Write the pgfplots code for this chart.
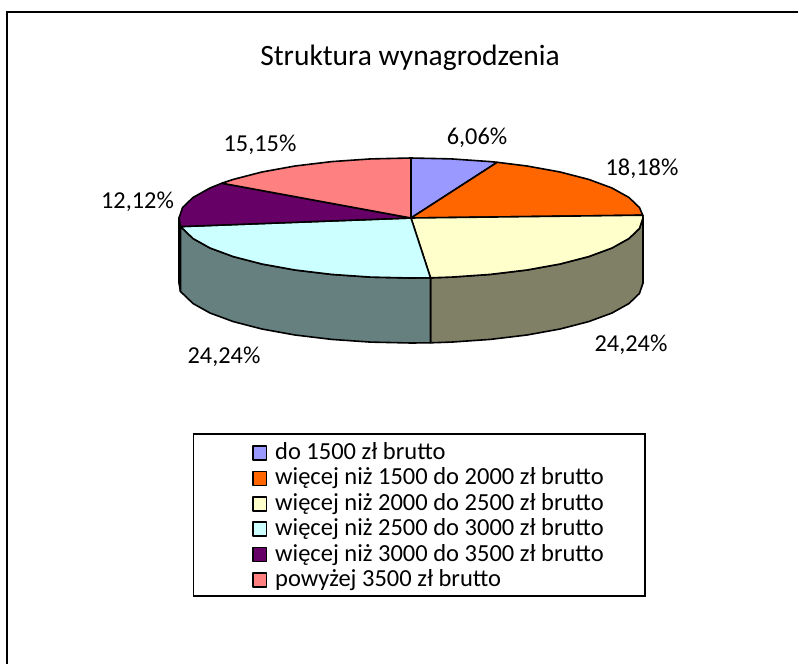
\documentclass[border=0pt]{standalone}
\usepackage{pgfplots}
\pgfplotsset{compat=1.18}
\usepackage{fontspec}
\setmainfont{Carlito}
\definecolor{cA}{HTML}{9999FF}
\definecolor{cB}{HTML}{FF6600}
\definecolor{cC}{HTML}{FFFFCC}
\definecolor{cD}{HTML}{CCFFFF}
\definecolor{cE}{HTML}{660066}
\definecolor{cF}{HTML}{FF8080}
\definecolor{sC}{HTML}{808066}
\definecolor{sD}{HTML}{668080}
\definecolor{sB}{HTML}{803300}
\definecolor{sE}{HTML}{330033}
\begin{document}
\begin{tikzpicture}
\begin{axis}[
  scale only axis, width=798pt, height=664pt,
  xmin=0, xmax=798, ymin=0, ymax=664, y dir=reverse,
  hide axis, clip=false,
  legend cell align=left,
  legend style={at={(axis cs:252,442.5)}, anchor=north west, draw=none, fill=none,
    inner sep=0pt, outer sep=0pt, font=\fontsize{24.5}{24.5}\selectfont,
    row sep=3.4pt,
    nodes={inner xsep=0pt, inner ysep=0pt, text height=17pt, text depth=5pt}},
  legend image code/.code={\draw[#1,line width=1.5pt] (0.6pt,-6.5pt) rectangle (14.4pt,7.5pt);\path[draw=none,fill=none] (0pt,0pt) -- (23pt,0pt);},
  every axis plot/.append style={draw=black, line width=1.6pt, line join=round},
]
\path[use as bounding box] (axis cs:0,0) rectangle (axis cs:798,664);
% walls
\addplot[fill=sB, forget plot] coordinates {(642.7,215.2)(643,218)(643,283)(642.7,280.2)} -- cycle;
\addplot[fill=sE, forget plot] coordinates {(180.5,226.6)(179,218)(179,283)(180.5,291.6)} -- cycle;
\addplot[fill=sC, forget plot] coordinates {(643,218)(639.5,228.4)(629,238.5)(612,248)(588.7,256.6)(560.1,264)(527,270)(490.3,274.4)(451.3,277.1)(430.5,277.8)(430.5,342.8)(451.3,342.1)(490.3,339.4)(527,335)(560.1,329)(588.7,321.6)(612,313)(629,303.5)(639.5,293.4)(643,283)} -- cycle;
\addplot[fill=sD, forget plot] coordinates {(430.5,277.8)(411,278)(370.7,277.1)(331.7,274.4)(295,270)(261.9,264)(233.3,256.6)(210,248)(193,238.5)(182.5,228.4)(180.5,226.6)(180.5,291.6)(182.5,293.4)(193,303.5)(210,313)(233.3,321.6)(261.9,329)(295,335)(331.7,339.4)(370.7,342.1)(411,343)(430.5,342.8)} -- cycle;
% top slices
\addplot[fill=cA] coordinates {(411,218)(411,158)(451.3,158.9)(490.3,161.6)(497.2,162.3)} -- cycle;
\addlegendentry{do 1500 zł brutto}
\addplot[fill=cB] coordinates {(411,218)(497.2,162.3)(527,166)(560.1,172)(588.7,179.4)(612,188)(629,197.5)(639.5,207.6)(642.7,215.2)} -- cycle;
\addlegendentry{więcej niż 1500 do 2000 zł brutto}
\addplot[fill=cC] coordinates {(411,218)(642.7,215.2)(643,218)(639.5,228.4)(629,238.5)(612,248)(588.7,256.6)(560.1,264)(527,270)(490.3,274.4)(451.3,277.1)(430.5,277.8)} -- cycle;
\addlegendentry{więcej niż 2000 do 2500 zł brutto}
\addplot[fill=cD] coordinates {(411,218)(430.5,277.8)(411,278)(370.7,277.1)(331.7,274.4)(295,270)(261.9,264)(233.3,256.6)(210,248)(193,238.5)(182.5,228.4)(180.5,226.6)} -- cycle;
\addlegendentry{więcej niż 2500 do 3000 zł brutto}
\addplot[fill=cE] coordinates {(411,218)(180.5,226.6)(179,218)(182.5,207.6)(193,197.5)(210,188)(221.9,183.2)} -- cycle;
\addlegendentry{więcej niż 3000 do 3500 zł brutto}
\addplot[fill=cF] coordinates {(411,218)(221.9,183.2)(233.3,179.4)(261.9,172)(295,166)(331.7,161.6)(370.7,158.9)(411,158)} -- cycle;
\addlegendentry{powyżej 3500 zł brutto}
% frame and legend box
\draw[black, line width=2pt] (axis cs:7,664) -- (axis cs:7,11.5) -- (axis cs:798,11.5);
\draw[black, line width=1.3pt] (axis cs:193.5,434) rectangle (axis cs:645,596);
% texts
\node[font=\fontsize{29.5}{29.5}\selectfont] at (axis cs:410,58) {Struktura wynagrodzenia};
\node[font=\fontsize{24.3}{24.3}\selectfont] at (axis cs:477,138) {6,06\%};
\node[font=\fontsize{24.3}{24.3}\selectfont] at (axis cs:642,169) {18,18\%};
\node[font=\fontsize{24.3}{24.3}\selectfont] at (axis cs:631,345) {24,24\%};
\node[font=\fontsize{24.3}{24.3}\selectfont] at (axis cs:224,357) {24,24\%};
\node[font=\fontsize{24.3}{24.3}\selectfont] at (axis cs:137.5,202) {12,12\%};
\node[font=\fontsize{24.3}{24.3}\selectfont] at (axis cs:260,145) {15,15\%};
\end{axis}
\end{tikzpicture}
\end{document}
